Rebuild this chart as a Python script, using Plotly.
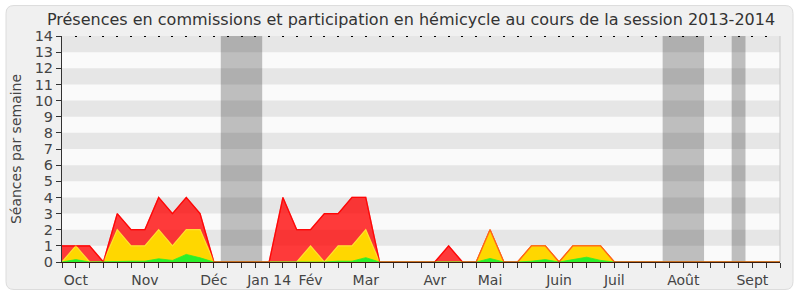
import plotly.graph_objects as go

# ---- data (weekly, session 2013-2014) ----
weeks = list(range(53))
month_ticks = [1, 6, 11, 15, 18, 22, 27, 31, 36, 40, 45, 50]
month_labels = ["Oct", "Nov", "Déc", "Jan 14", "Fév", "Mar", "Avr", "Mai", "Juin", "Juil", "Août", "Sept"]

# total presences (red), commissions (yellow), hemicycle (green)
total = [1, 1, 1, 0, 3, 2, 2, 4, 3, 4, 3, 0, 0, 0, 0, 0, 4, 2, 2, 3, 3, 4, 4, 0, 0, 0,
         0, 0, 1, 0, 0, 2, 0, 0, 1, 1, 0, 1, 1, 1, 0, 0, 0, 0, 0, 0, 0, 0, 0, 0, 0, 0, 0]
commissions = [0, 1, 0, 0, 2, 1, 1, 2, 1, 2, 2, 0, 0, 0, 0, 0, 0, 0, 1, 0, 1, 1, 2, 0, 0, 0,
               0, 0, 0, 0, 0, 2, 0, 0, 1, 1, 0, 1, 1, 1, 0, 0, 0, 0, 0, 0, 0, 0, 0, 0, 0, 0, 0]
hemicycle = [0, 0.15, 0, 0, 0.03, 0.05, 0.05, 0.2, 0.1, 0.47, 0.26, 0, 0, 0, 0, 0, 0, 0, 0, 0,
             0.05, 0.05, 0.27, 0, 0, 0, 0, 0, 0, 0, 0, 0.22, 0, 0, 0.05, 0.15, 0, 0.15, 0.3, 0.1,
             0, 0, 0, 0, 0, 0, 0, 0, 0, 0, 0, 0, 0]

# holiday periods (week ranges, inclusive)
vacations = [(12, 14), (44, 46), (49, 49)]
y_max = 14

# ---- layout geometry ----
W, H = 800, 300
L, R, T, B = 62, 20, 36, 34
pw, ph = W - L - R, H - T - B

def px2x(px):
    return (px - L) / pw

def py2y(py):
    return (H - B - py) / ph

fig = go.Figure()

shapes = []
# outer rounded panel
x0, x1 = px2x(6), px2x(793)
y0, y1 = py2y(294), py2y(5)
rx, ry = 8 / pw, 8 / ph
path = (f"M {x0+rx},{y1} L {x1-rx},{y1} Q {x1},{y1} {x1},{y1-ry} "
        f"L {x1},{y0+ry} Q {x1},{y0} {x1-rx},{y0} L {x0+rx},{y0} "
        f"Q {x0},{y0} {x0},{y0+ry} L {x0},{y1-ry} Q {x0},{y1} {x0+rx},{y1} Z")
shapes.append(dict(type="path", path=path, xref="paper", yref="paper",
                   fillcolor="#F0F0F0", line=dict(color="#DCDCDC", width=1), layer="below"))
# plot area background
shapes.append(dict(type="rect", xref="paper", yref="paper", x0=0, x1=1, y0=0, y1=1,
                   fillcolor="#FAFAFA", line=dict(width=0), layer="below"))
# alternating bands
for k in range(1, y_max, 2):
    shapes.append(dict(type="rect", xref="paper", yref="y", x0=0, x1=1, y0=k, y1=k + 1,
                       fillcolor="#E6E6E6", line=dict(width=0), layer="below"))
# vacation shading
for a, b in vacations:
    shapes.append(dict(type="rect", xref="x", yref="paper", x0=a - 0.5, x1=b + 0.5, y0=0, y1=1,
                       fillcolor="rgba(0,0,0,0.24)", line=dict(width=0), layer="below"))
# right border line
shapes.append(dict(type="line", xref="paper", yref="paper", x0=1, x1=1, y0=0, y1=1,
                   line=dict(color="#C8C8C8", width=1), layer="below"))

fig.add_trace(go.Scatter(x=weeks, y=total, mode="lines", fill="tozeroy",
                         fillcolor="rgba(255,0,0,0.77)", line=dict(color="rgba(255,0,0,0.9)", width=1.2),
                         hoverinfo="skip", showlegend=False))
fig.add_trace(go.Scatter(x=weeks, y=commissions, mode="lines", fill="tozeroy",
                         fillcolor="#FFD700", line=dict(color="#FFE030", width=1.2),
                         hoverinfo="skip", showlegend=False))
fig.add_trace(go.Scatter(x=weeks, y=hemicycle, mode="lines", fill="tozeroy",
                         fillcolor="#2AF02A", line=dict(color="#2AF02A", width=0.8),
                         hoverinfo="skip", showlegend=False))
fig.add_trace(go.Scatter(x=weeks, y=total, mode="lines",
                         line=dict(color="rgba(255,0,0,0.55)", width=1.3),
                         hoverinfo="skip", showlegend=False))
# dummy trace for top tick axis
fig.add_trace(go.Scatter(x=[None], y=[None], xaxis="x2", hoverinfo="skip", showlegend=False))

ticktext = [""] * len(weeks)
for v, t in zip(month_ticks, month_labels):
    ticktext[v] = t

fig.update_layout(
    width=W, height=H,
    margin=dict(l=L, r=R, t=T, b=B, pad=0),
    paper_bgcolor="white",
    plot_bgcolor="rgba(0,0,0,0)",
    shapes=shapes,
    font=dict(family="DejaVu Sans", color="#333333"),
    title=dict(text="Présences en commissions et participation en hémicycle au cours de la session 2013-2014",
               x=411 / W, xref="container", xanchor="center",
               y=1 - 19 / H, yref="container", yanchor="middle",
               font=dict(size=16, color="#333333")),
    xaxis=dict(range=[0, 52], tickmode="array", tickvals=weeks, ticktext=ticktext,
               ticks="outside", ticklen=5, tickwidth=1, tickcolor="#333333",
               showline=True, linecolor="#3d1c0c", linewidth=1,
               showgrid=False, zeroline=False, fixedrange=True,
               tickfont=dict(size=14, color="#444444")),
    xaxis2=dict(range=[0, 52], overlaying="x", side="top", anchor="y", tickmode="array",
                tickvals=weeks, showticklabels=False, ticks="inside", ticklen=1, tickwidth=1.5,
                tickcolor="#000000", showline=False, showgrid=False, zeroline=False),
    yaxis=dict(range=[0, y_max], tickmode="linear", dtick=1, tick0=0,
               ticks="outside", ticklen=5, tickwidth=1, tickcolor="#333333",
               showline=True, linecolor="#333333", linewidth=1,
               showgrid=False, zeroline=False, fixedrange=True,
               tickfont=dict(size=14.5, color="#444444"),
               title=dict(text="Séances par semaine", standoff=9,
                          font=dict(size=14, color="#444444"))),
)

fig.write_html("out.html")
